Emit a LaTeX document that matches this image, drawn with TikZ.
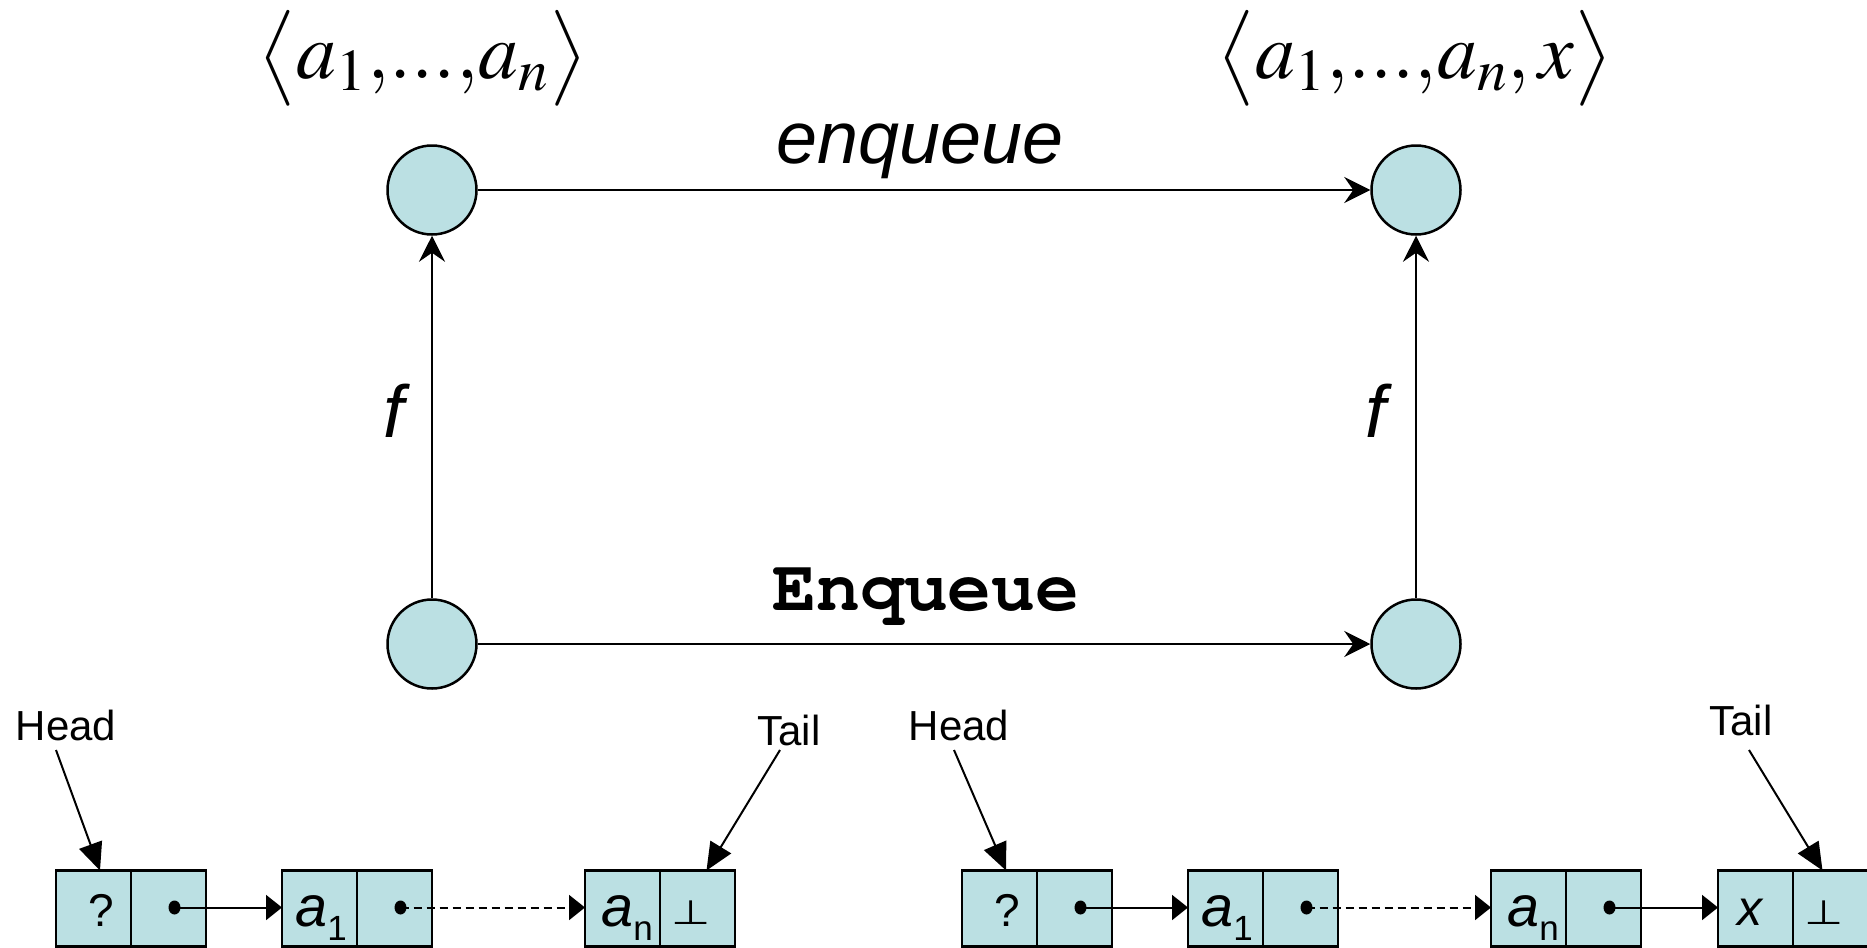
\documentclass[tikz,border=0pt]{standalone}
\usepackage{mathptmx}
\usepackage[T1]{fontenc}
\usepackage{fontspec}
\newfontfamily\arial{Liberation Sans}
\newfontfamily\symb{DejaVu Sans}
\newcommand{\courierbold}{\fontencoding{T1}\fontfamily{pcr}\fontseries{b}\fontshape{n}\selectfont}
\usetikzlibrary{arrows.meta,calc,shapes.geometric}
\definecolor{cellfill}{HTML}{BBE0E3}
\tikzset{
  state/.style={circle, draw, line width=1pt, fill=cellfill, minimum size=35.6pt, inner sep=0pt},
  map/.style={line width=0.8pt, -{Stealth[length=10.4pt,width=10.4pt,inset=3.6pt]}},
  cell/.style={rectangle, draw, line width=1.1pt, fill=cellfill, minimum width=30pt, minimum height=30.4pt, inner sep=0pt, outer sep=0pt},
  link/.style={line width=0.8pt, -{Triangle[length=6.4pt,width=10pt]}},
  ptr/.style={line width=0.8pt, -{Triangle[length=11pt,width=9.6pt]}},
  ptrdot/.style={ellipse, fill=black, minimum width=4.8pt, minimum height=5.6pt, inner sep=0pt},
  txt/.style={anchor=base, inner sep=0pt},
  ptrlabel/.style={txt, font=\arial\fontsize{16.8}{19}\selectfont},
  mathlabel/.style={txt, font=\fontsize{32}{40}\selectfont},
  opname/.style={txt, font=\arial\itshape\fontsize{29.5}{32}\selectfont},
}
% subscripted element names in the list cells
\newcommand{\elem}[1]{{\arial\itshape\fontsize{23}{25}\selectfont a}\raisebox{-5.6pt}{\arial\fontsize{14}{15}\selectfont #1}}
\newcommand{\nil}{\scalebox{1}[0.75]{\symb\fontsize{18}{20}\selectfont ⊥}}
\newcommand{\tdots}{{.}{.}{.}}
\begin{document}
\begin{tikzpicture}[x=0.4pt, y=-0.4pt]
\useasboundingbox (0,0) rectangle (1867,947);

% abstract states and concrete states
\node[state] (p1) at (432,190) {};
\node[state] (p2) at (1416,190) {};
\node[state] (c1) at (432,644) {};
\node[state] (c2) at (1416,644) {};

\draw[map] (p1) -- (p2);
\draw[map] (c1) -- (c2);
\draw[map] (c1) -- (p1);
\draw[map] (c2) -- (p2);

\node[mathlabel] (s1) at (423,78) {$\bigl\langle a_1{,}\tdots{,}a_n\bigr\rangle$};
\node[mathlabel] (s2) at (1415,78) {$\bigl\langle a_1{,}\tdots{,}a_n,x\bigr\rangle$};
\node[opname] (enq) at (920,163) {enqueue};
\node[txt, font=\courierbold\fontsize{29.3}{32}\selectfont] (Enq) at (926,610) {Enqueue};
\node[opname] (f1) at (394,437) {f};
\node[opname] (f2) at (1376,437) {f};

% list cells: value part and pointer part
\foreach \n/\x in {1/56, 2/282, 3/585, 4/962, 5/1188, 6/1491, 7/1718} {
  \node[cell] (b\n v) at (\x+37.5,908.5) {};
  \node[cell] (b\n p) at (\x+112.5,908.5) {};
}
\foreach \n in {1,2,4,5,6} {
  \coordinate (d\n) at ($(b\n p.center)+(6,-1)$);
}

\node[txt, font=\arial\fontsize{18.4}{20}\selectfont] (q1) at ($(b1v.center)+(8,17.5)$) {?};
\node[txt] (e1) at ($(b2v.center)+(1.5,17.5)$) {\elem{1}};
\node[txt] (e2) at ($(b3v.center)+(4.5,17.5)$) {\elem{n}};
\node[txt] (n1) at ($(b3p.center)+(-6,15.5)$) {\nil};

\node[txt, font=\arial\fontsize{18.4}{20}\selectfont] (q2) at ($(b4v.center)+(8,17.5)$) {?};
\node[txt] (e3) at ($(b5v.center)+(1.5,17.5)$) {\elem{1}};
\node[txt] (e4) at ($(b6v.center)+(4.5,17.5)$) {\elem{n}};
\node[txt, font=\arial\itshape\fontsize{20}{22}\selectfont] (xv) at ($(b7v.center)+(-6,16.5)$) {x};
\node[txt] (n2) at ($(b7p.center)+(-6,15.5)$) {\nil};

\draw[link] (d1) -- (d1 -| b2v.west);
\draw[link, dash pattern=on 3.2pt off 2pt] (d2) -- (d2 -| b3v.west);
\draw[link] (d4) -- (d4 -| b5v.west);
\draw[link, dash pattern=on 3.2pt off 2pt] (d5) -- (d5 -| b6v.west);
\draw[link] (d6) -- (d6 -| b7v.west);
\foreach \n in {1,2,4,5,6} { \node[ptrdot] (dot\n) at (d\n) {}; }

% head and tail pointers
\node[ptrlabel] (hl) at (66,740) {Head};
\node[ptrlabel] (tl) at (789,745) {Tail};
\node[ptrlabel] (hr) at (959,740) {Head};
\node[ptrlabel] (tr) at (1741,735) {Tail};

\draw[ptr] ([shift={(-10,10)}]hl.base) -- ([xshift=2.6pt]b1v.north);
\draw[ptr] ([shift={(-9,5)}]tl.base) -- ([xshift=3.6pt]b3p.north);
\draw[ptr] ([shift={(-5,10)}]hr.base) -- ([xshift=2.6pt]b4v.north);
\draw[ptr] ([shift={(8,15)}]tr.base) -- ([xshift=-3.2pt]b7p.north);
\end{tikzpicture}
\end{document}
